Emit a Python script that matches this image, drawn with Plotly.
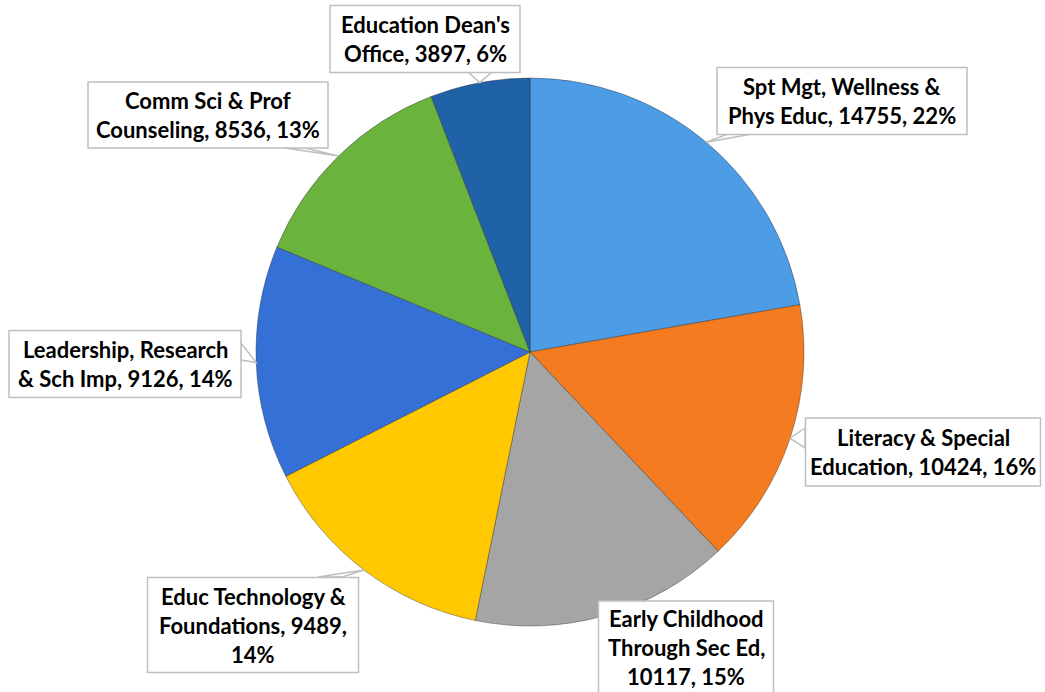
import math
import plotly.graph_objects as go

# ---- data ----
categories = [
    "Spt Mgt, Wellness & Phys Educ",
    "Literacy & Special Education",
    "Early Childhood Through Sec Ed",
    "Educ Technology & Foundations",
    "Leadership, Research & Sch Imp",
    "Comm Sci & Prof Counseling",
    "Education Dean's Office",
]
values = [14755, 10424, 10117, 9489, 9126, 8536, 3897]
colors = ["#4C9CE6", "#F47B20", "#A5A5A5", "#FFC800", "#3470D6", "#6AB43E", "#1F62A8"]
# words per line when wrapping "name, value, pct%"
wrap_words = [[4, 4], [3, 3], [2, 3, 2], [3, 2, 1], [2, 5], [4, 3], [2, 3]]

# ---- layout (pixels) ----
W, H = 1045, 692
CX, CY, R = 530, 352, 274
# label boxes: (center x, center y, width, height)
boxes = [
    (842, 101, 250, 67),
    (923, 452, 235, 68),
    (686, 650, 175, 98),
    (253, 625, 211, 95),
    (125, 364, 232, 67),
    (208, 115, 240, 66),
    (425, 39, 190, 67),
]
# vertical text offset inside each box (pixels)
text_dy = [0, 0, -3, 0, 0, 0, 0]
# callout base points on box edges
bases = [
    ((728, 134), (752, 134)),
    ((805, 428), (805, 448)),
    ((640, 602), (660, 602)),
    ((318, 577), (342, 577)),
    ((241, 343), (241, 360)),
    ((285, 148), (305, 148)),
    ((468, 72), (492, 72)),
]
LINE_H = 29
FONT = dict(family="Lato, Carlito, Calibri, sans-serif", size=22, color="#000000", weight="bold")


def px(x):
    return x / W


def py(y):
    return 1 - y / H


total = sum(values)
fig = go.Figure(
    go.Pie(
        labels=categories,
        values=values,
        sort=False,
        direction="clockwise",
        rotation=0,
        marker=dict(colors=colors, line=dict(color="rgba(40,40,40,0.4)", width=1)),
        textinfo="none",
        hovertemplate="%{label}: %{value} (%{percent})<extra></extra>",
        domain=dict(x=[px(CX - R), px(CX + R)], y=[py(CY + R), py(CY - R)]),
        showlegend=False,
    )
)

shapes = []
annotations = []
cum = 0
for i, (name, v) in enumerate(zip(categories, values)):
    mid = (cum + v / 2) / total * 2 * math.pi
    cum += v
    tx = CX + R * math.sin(mid)
    ty = CY - R * math.cos(mid)
    (b1x, b1y), (b2x, b2y) = bases[i]
    path = f"M {px(b1x)} {py(b1y)} L {px(tx)} {py(ty)} L {px(b2x)} {py(b2y)} Z"
    shapes.append(dict(type="path", path=path, xref="paper", yref="paper",
                       fillcolor="white", line=dict(color="#BFBFBF", width=1.5), layer="above"))
    bx, by, bw, bh = boxes[i]
    shapes.append(dict(type="rect", xref="paper", yref="paper",
                       x0=px(bx - bw / 2), x1=px(bx + bw / 2),
                       y0=py(by + bh / 2), y1=py(by - bh / 2),
                       fillcolor="white", line=dict(color="#BFBFBF", width=1.5), layer="above"))
    pct = round(v / total * 100)
    words = f"{name}, {v}, {pct}%".split(" ")
    lines = []
    k = 0
    for n in wrap_words[i]:
        lines.append(" ".join(words[k:k + n]))
        k += n
    nl = len(lines)
    for j, ln in enumerate(lines):
        ly = by + text_dy[i] + (j - (nl - 1) / 2) * LINE_H
        annotations.append(dict(x=px(bx), y=py(ly), xref="paper", yref="paper",
                                text=ln, showarrow=False, xanchor="center", yanchor="middle",
                                font=FONT))

fig.update_layout(
    width=W, height=H,
    margin=dict(l=0, r=0, t=0, b=0),
    paper_bgcolor="white",
    plot_bgcolor="white",
    shapes=shapes,
    annotations=annotations,
)

fig.write_html(
    "out.html",
    config={"displayModeBar": False},
    post_script="document.body.style.margin='0';document.body.style.overflow='hidden';",
)
